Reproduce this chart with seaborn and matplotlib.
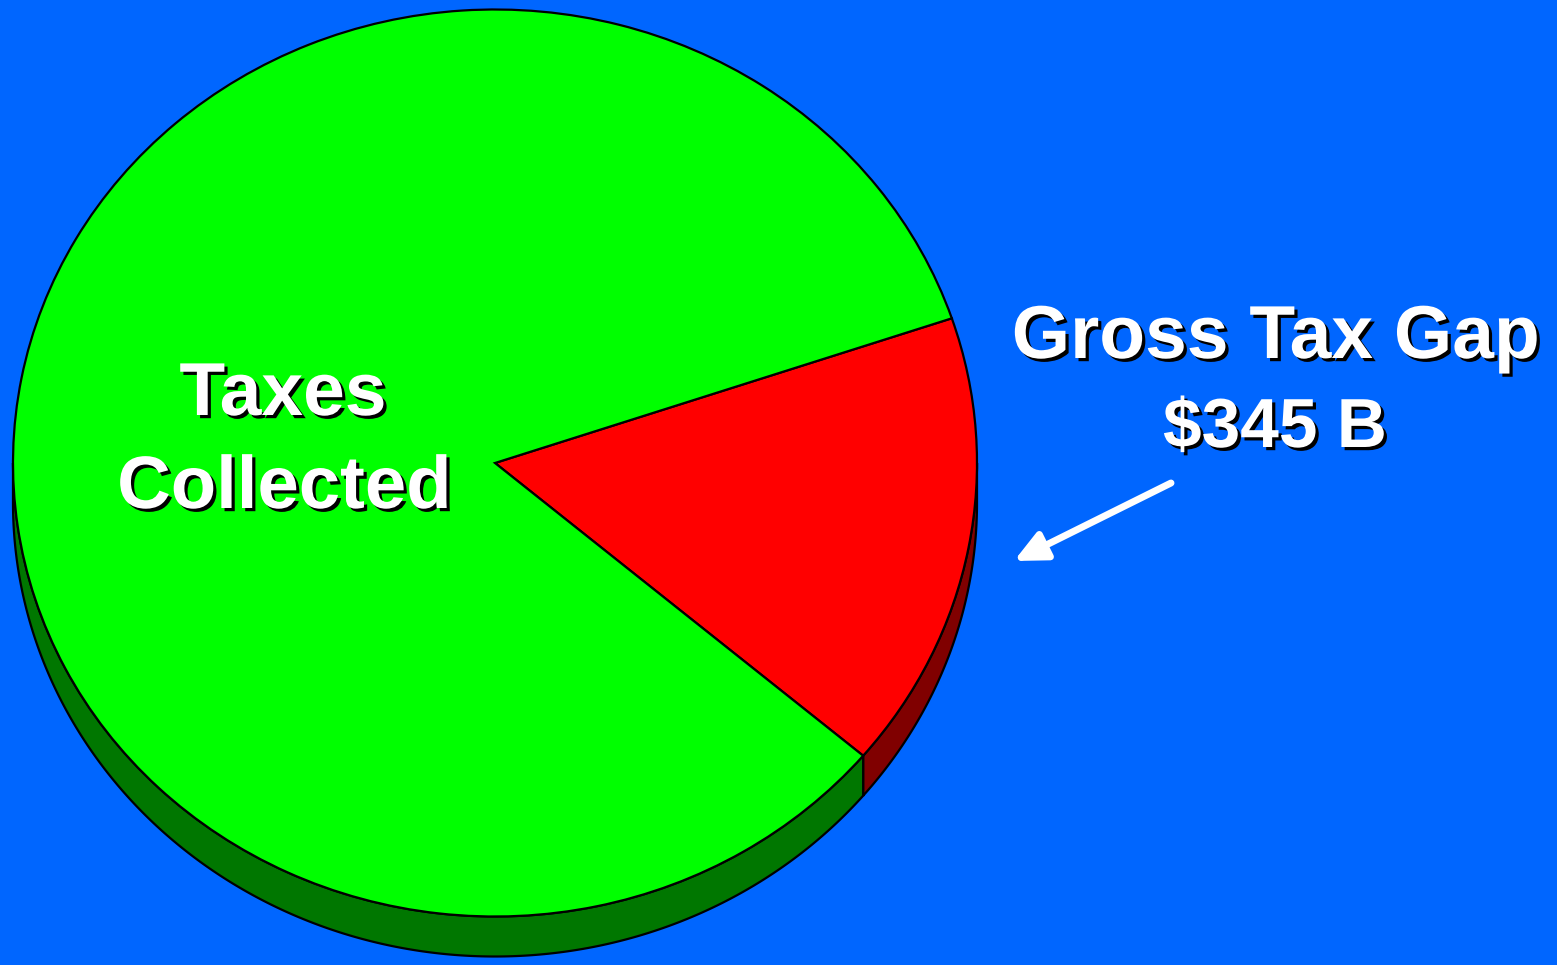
import matplotlib
matplotlib.use("Agg")
import matplotlib.pyplot as plt
import matplotlib.patheffects as pe
from matplotlib.patches import Ellipse
import seaborn as sns
import numpy as np

# Data
categories = ["Gross Tax Gap", "Taxes Collected"]
values = [345, 1767]          # $ billions
top_colors = ["#FF0000", "#00FF00"]
side_colors = ["#800000", "#007700"]
gap_label = ["Gross Tax Gap", "$345 B"]
collected_label = ["Taxes", "Collected"]

BG = "#0066FF"
sns.set_style("white", {"axes.facecolor": BG, "figure.facecolor": BG})
plt.rcParams["font.family"] = ["Liberation Sans", "DejaVu Sans"]

W, H = 1557, 965
fig = plt.figure(figsize=(W / 100, H / 100), dpi=100)
fig.patch.set_facecolor(BG)

# pie geometry (pixels)
cx, cy, rx, ry, depth = 495, 463, 482, 453.5, 40
ax = fig.add_axes([0, 0, 1, 1])
ax.set_facecolor(BG)
d = depth / ry

# top face
top_w, _ = ax.pie(values, colors=top_colors, startangle=-40.2, counterclock=True,
                  center=(0, 0), radius=1,
                  wedgeprops=dict(edgecolor="black", linewidth=1.6))
for w in top_w:
    w.set_zorder(2)

# side walls (extrusion) for the lower half of each wedge
for w, col in zip(top_w, side_colors):
    t1, t2 = w.theta1 % 360, w.theta2 % 360
    if t2 <= t1:
        t2 += 360
    segs = []
    for lo, hi in [(180, 360), (540, 720)]:
        a, b = max(t1, lo), min(t2, hi)
        if b > a:
            segs.append((a, b))
    for a, b in segs:
        t = np.deg2rad(np.linspace(a, b, 300))
        xs = np.concatenate([np.cos(t), np.cos(t[::-1])])
        ys = np.concatenate([np.sin(t), np.sin(t[::-1]) - d])
        ax.fill(xs, ys, facecolor=col, edgecolor="black", linewidth=1.6, zorder=1)

ax.set_aspect("auto")
ax.set_xlim(-cx / rx, (W - cx) / rx)
ax.set_ylim(-(H - cy) / ry, cy / ry)
ax.axis("off")

# overlay in pixel coordinates for text and arrow
ov = fig.add_axes([0, 0, 1, 1], facecolor="none")
ov.set_xlim(0, W)
ov.set_ylim(H, 0)
ov.axis("off")

fx = [pe.SimplePatchShadow(offset=(2.3, -2.3), shadow_rgbFace="black", alpha=1.0), pe.Normal()]
tkw = dict(color="white", fontweight="bold", ha="center", va="baseline",
           path_effects=fx, zorder=5)
ov.text(1276, 358, gap_label[0], fontsize=54, **tkw)
ov.text(1275, 447, gap_label[1], fontsize=50, **tkw)
ov.text(283, 415, collected_label[0], fontsize=54, **tkw)
ov.text(284, 508, collected_label[1], fontsize=53.5, **tkw)

ov.annotate("", xy=(1014, 561), xytext=(1171, 483),
            arrowprops=dict(arrowstyle="-|>,head_length=0.95,head_width=0.45", color="white",
                            lw=5, mutation_scale=20, shrinkA=0, shrinkB=0))

fig.savefig("out.png", dpi=100, facecolor=BG)
